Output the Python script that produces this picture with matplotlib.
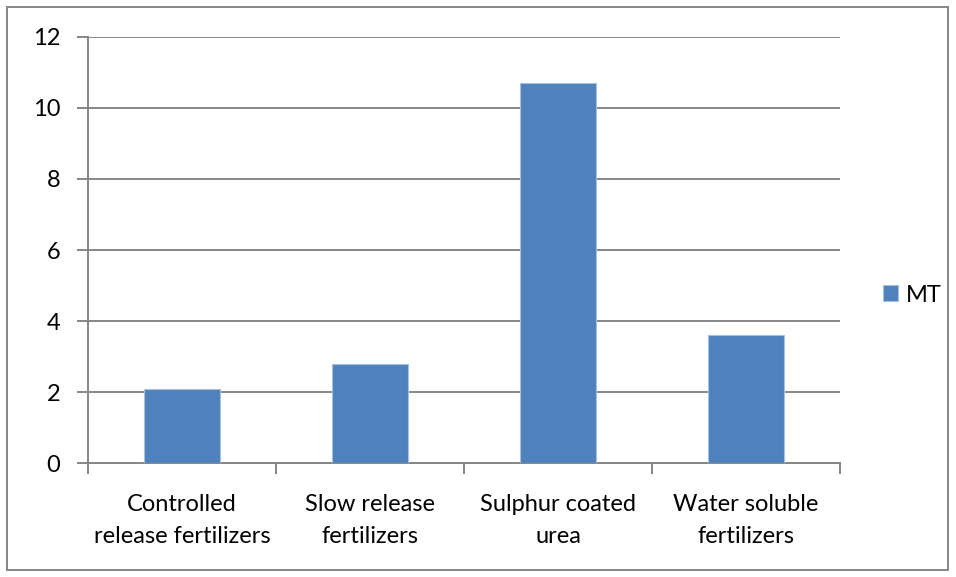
import matplotlib
matplotlib.use("Agg")
import matplotlib.pyplot as plt
from matplotlib.patches import Rectangle

categories = ["Controlled\nrelease fertilizers", "Slow release\nfertilizers",
              "Sulphur coated\nurea", "Water soluble\nfertilizers"]
values = [2.1, 2.8, 10.7, 3.6]
series_name = "MT"
yticks = [0, 2, 4, 6, 8, 10, 12]

plt.rcParams['font.family'] = ['Lato', 'DejaVu Sans']

fig = plt.figure(figsize=(9.56, 5.77), dpi=100)
ax = fig.add_axes([88/956, 1-463.3/577, (840-88)/956, (463.3-36.7)/577])

grid_c = "#868686"
bar_c = "#4f81bd"
fs = 17
x = list(range(len(categories)))
ax.bar(x, values, width=0.4, color=bar_c, edgecolor="#a7c0de", linewidth=0.8,
       zorder=3, label=series_name)
ax.set_xlim(-0.5, len(categories)-0.5)
ax.set_ylim(0, 12)
ax.set_yticks(yticks)
ax.set_yticklabels([str(v) for v in yticks], fontsize=fs)
ax.yaxis.grid(True, color=grid_c, linewidth=1.4, zorder=0)
ax.set_axisbelow(True)
ax.set_xticks(x)
ax.set_xticklabels(categories, fontsize=fs, linespacing=1.65)
ax.set_xticks([i-0.5 for i in range(len(categories)+1)], minor=True)
ax.tick_params(axis='x', which='major', length=0, pad=22)
ax.tick_params(axis='x', which='minor', length=8, width=1.4, color=grid_c, direction='out')
ax.tick_params(axis='y', length=8, width=1.4, color=grid_c, direction='out', pad=12)
for s in ['top', 'right']:
    ax.spines[s].set_visible(False)
for s in ['left', 'bottom']:
    ax.spines[s].set_color(grid_c)
    ax.spines[s].set_linewidth(1.4)

leg = ax.legend(loc='center left', bbox_to_anchor=((883-88)/752, (463.3-295)/426.6),
                frameon=False, fontsize=fs, handlelength=0.65, handleheight=0.65,
                handletextpad=0.3, borderpad=0, borderaxespad=0)

fig.patches.append(Rectangle((7/956, 7/577), (948-7)/956, (570-7)/577,
                             transform=fig.transFigure, fill=False,
                             edgecolor="#868686", linewidth=1.4))

fig.savefig("out.png", dpi=100)
